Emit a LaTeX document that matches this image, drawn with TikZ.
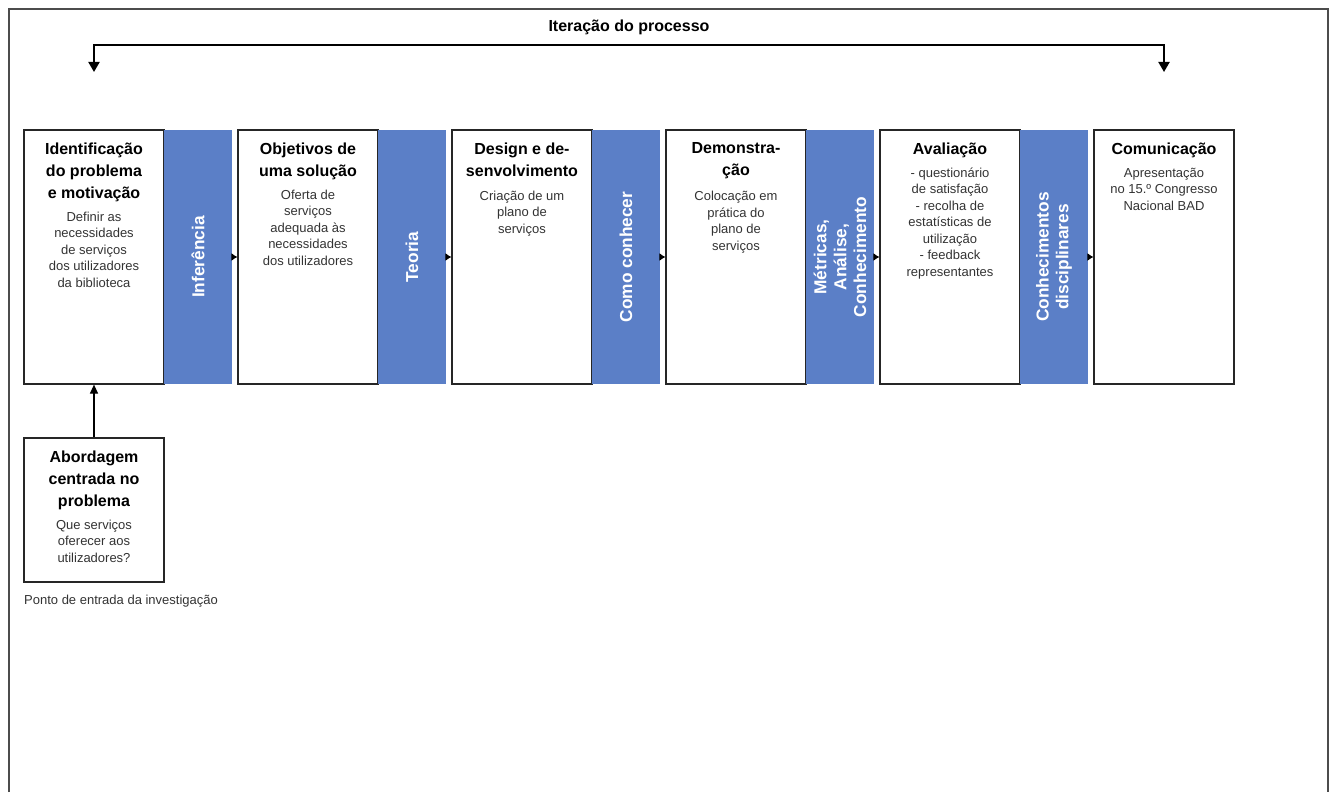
\documentclass[tikz,border=0pt]{standalone}
\usepackage{fontspec}
\setmainfont{Liberation Sans}
\usetikzlibrary{arrows.meta,positioning}
\definecolor{kblue}{RGB}{91,127,199}
\begin{document}
\begin{tikzpicture}[x=1pt,y=-1pt,>=Latex,
  stage/.style={draw=black!85,line width=1.2pt,minimum width=140pt,minimum height=254pt,inner sep=0},
  know/.style={fill=kblue,minimum width=68pt,minimum height=254pt,inner sep=0},
  ktxt/.style={rotate=90,text=white,align=center,inner sep=0,font=\fontsize{17.3}{19.8}\selectfont\bfseries},
  ttl/.style={align=center,inner sep=0,font=\fontsize{16}{22}\selectfont\bfseries},
  txt/.style={align=center,inner sep=0,text=black!80,font=\fontsize{13}{16.5}\selectfont},
  flow/.style={line width=1pt,-{Latex[length=6pt,width=8pt]}}]
\useasboundingbox (0,0) rectangle (1335,792);
\draw[black!70,line width=2pt] (9,792) -- (9,9) -- (1328,9) -- (1328,792);
\node[ttl] (iter) at (629,27) {Iteração do processo};
\coordinate (itTop) at (629,45);
\coordinate (itL) at (94,72);
\coordinate (itR) at (1164,72);
\draw[line width=2pt,{Triangle[length=10pt,width=11pt]}-{Triangle[length=10pt,width=11pt]}] (itL) |- (itTop) -| (itR);
\node[stage] (s1) at (94,257) {};
\node[know] (k1) at (198,257) {};
\node[stage] (s2) at (308,257) {};
\node[know] (k2) at (412,257) {};
\node[stage] (s3) at (522,257) {};
\node[know] (k3) at (626,257) {};
\node[stage] (s4) at (736,257) {};
\node[know] (k4) at (840,257) {};
\node[stage] (s5) at (950,257) {};
\node[know] (k5) at (1054,257) {};
\node[stage] (s6) at (1164,257) {};
\node[ttl,below=13pt of s1.north] (t1) {Identificação\\do problema\\e motivação};
\node[txt,below=10pt of t1] (b1) {Definir as\\necessidades\\de serviços\\dos utilizadores\\da biblioteca};
\node[ttl,below=13pt of s2.north] (t2) {Objetivos de\\uma solução};
\node[txt,below=10pt of t2] (b2) {Oferta de\\serviços\\adequada às\\necessidades\\dos utilizadores};
\node[ttl,below=13pt of s3.north] (t3) {Design e de-\\senvolvimento};
\node[txt,below=14pt of t3] (b3) {Criação de um\\plano de\\serviços};
\node[ttl,below=13pt of s4.north] (t4) {Demonstra-\\ção};
\node[txt,below=12pt of t4] (b4) {Colocação em\\prática do\\plano de\\serviços};
\node[ttl,below=13pt of s5.north] (t5) {Avaliação};
\node[txt,below=10pt of t5] (b5) {- questionário\\de satisfação\\- recolha de\\estatísticas de\\utilização\\- feedback\\representantes};
\node[ttl,below=13pt of s6.north] (t6) {Comunicação};
\node[txt,below=10pt of t6] (b6) {Apresentação\\no 15.º Congresso\\Nacional BAD};
\node[ktxt] at (k1) {Inferência};
\node[ktxt] at (k2) {Teoria};
\node[ktxt] at (k3) {Como conhecer};
\node[ktxt] at (k4) {Métricas,\\Análise,\\Conhecimento};
\node[ktxt] at (k5) {Conhecimentos\\disciplinares};
\draw[flow] (k1) -- (s2);
\draw[flow] (k2) -- (s3);
\draw[flow] (k3) -- (s4);
\draw[flow] (k4) -- (s5);
\draw[flow] (k5) -- (s6);
\node[stage,minimum height=144pt] (a) at (94,510) {};
\node[ttl,below=13pt of a.north] (ta) {Abordagem\\centrada no\\problema};
\node[txt,below=10pt of ta] (ba) {Que serviços\\oferecer aos\\utilizadores?};
\draw[line width=1.2pt,-{Triangle[length=9pt,width=8pt]}] (a) -- (s1);
\node[txt,anchor=west] (entry) at (24,601) {Ponto de entrada da investigação};
\end{tikzpicture}
\end{document}
